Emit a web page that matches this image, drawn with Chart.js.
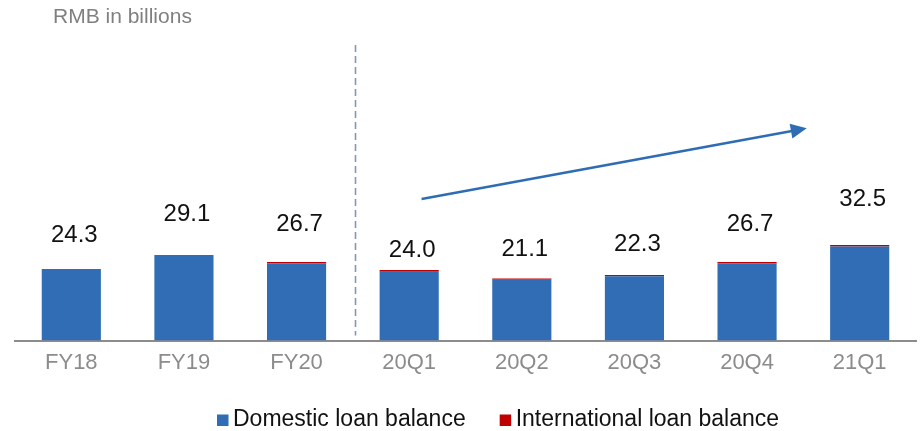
<!DOCTYPE html>
<html><head><meta charset="utf-8">
<script src="https://cdn.jsdelivr.net/npm/chart.js@4"></script>
<style>html,body{margin:0;padding:0;background:#fff}canvas{display:block}</style>
</head><body>
<canvas id="c" width="920" height="431"></canvas>
<script>
const categories = ['FY18','FY19','FY20','20Q1','20Q2','20Q3','20Q4','21Q1'];
const domesticLoans = [24.3, 29.1, 26.2, 23.4, 20.7, 21.9, 26.2, 32.0];
const internationalLoans = [0, 0, 0.5, 0.6, 0.4, 0.4, 0.5, 0.5];
const totalLoans = [24.3, 29.1, 26.7, 24.0, 21.1, 22.3, 26.7, 32.5];
const seriesNames = ['Domestic loan balance', 'International loan balance'];
const unitTitle = 'RMB in billions';
// trend arrow endpoints in axis units (category index, value)
const trendArrow = { from: { x: 3.11, y: 48.1 }, to: { x: 6.53, y: 72.2 } };

const FONT = '"Liberation Sans", Arial, sans-serif';
const BLUE = '#306db4';
const RED = '#c00000';

const decor = {
  id: 'decor',
  afterDraw(chart, args, opts) {
    const { ctx, chartArea: ca, scales } = chart;
    const x = scales.x, y = scales.y, yl = scales.yl;
    ctx.save();
    // dashed divider between FY20 and 20Q1
    const dx = Math.round((x.getPixelForValue(2) + x.getPixelForValue(3)) / 2 + 2) + 0.5;
    ctx.strokeStyle = '#8497b0';
    ctx.lineWidth = 1.6;
    ctx.setLineDash([7, 4]);
    ctx.beginPath();
    ctx.moveTo(dx, ca.top + 28);
    ctx.lineTo(dx, ca.bottom - 5);
    ctx.stroke();
    ctx.setLineDash([]);

    // trend arrow
    const x1 = x.getPixelForValue(trendArrow.from.x), y1 = y.getPixelForValue(trendArrow.from.y);
    const x2 = x.getPixelForValue(trendArrow.to.x), y2 = y.getPixelForValue(trendArrow.to.y);
    const ang = Math.atan2(y2 - y1, x2 - x1);
    const hl = 16, hw = 7.5;
    const bx = x2 - hl * Math.cos(ang), by = y2 - hl * Math.sin(ang);
    ctx.strokeStyle = '#2e6db4';
    ctx.fillStyle = '#2e6db4';
    ctx.lineWidth = 2.5;
    ctx.beginPath();
    ctx.moveTo(x1, y1);
    ctx.lineTo(bx + 1 * Math.cos(ang), by + 1 * Math.sin(ang));
    ctx.stroke();
    ctx.beginPath();
    ctx.moveTo(x2, y2);
    ctx.lineTo(bx - hw * Math.sin(ang), by + hw * Math.cos(ang));
    ctx.lineTo(bx + hw * Math.sin(ang), by - hw * Math.cos(ang));
    ctx.closePath();
    ctx.fill();

    // value labels
    ctx.font = '24px ' + FONT;
    ctx.fillStyle = '#111';
    ctx.textAlign = 'center';
    ctx.textBaseline = 'middle';
    totalLoans.forEach((t, i) => {
      const px = x.getPixelForValue(i) + 3;
      const py = yl.getPixelForValue(t) + 2 + ((opts.labelNudge || {})[i] || 0);
      ctx.fillText(t.toFixed(1), px, py);
    });

    // unit title
    ctx.font = '21px ' + FONT;
    ctx.fillStyle = '#808080';
    ctx.textAlign = 'left';
    ctx.fillText(unitTitle, 53, 17);

    // legend
    ctx.font = '23px ' + FONT;
    let lx = 217;
    const ly = 420;
    chart.data.datasets.forEach((ds, i) => {
      ctx.fillStyle = ds.backgroundColor;
      ctx.fillRect(lx, ly - 5.5, 11.5, 11.5);
      ctx.fillStyle = '#111';
      ctx.textBaseline = 'middle';
      ctx.fillText(ds.label, lx + 16, ly);
      lx += 16 + ctx.measureText(ds.label).width + 34;
    });
    ctx.restore();
  }
};

new Chart(document.getElementById('c'), {
  type: 'bar',
  data: {
    labels: categories,
    datasets: [
      { label: seriesNames[0], data: domesticLoans, backgroundColor: BLUE, borderWidth: 0 },
      { label: seriesNames[1], data: internationalLoans, backgroundColor: RED, borderWidth: 0 }
    ]
  },
  options: {
    responsive: false,
    devicePixelRatio: 1,
    animation: false,
    categoryPercentage: 1,
    barPercentage: 0.525,
    layout: { padding: { left: 15, right: 4, top: 17, bottom: 46 } },
    plugins: {
      legend: { display: false },
      tooltip: { enabled: false },
      decor: { labelNudge: { 3: 14 } }
    },
    scales: {
      x: {
        stacked: true,
        grid: { display: false, drawTicks: false },
        border: { color: '#8c8c8c', width: 2 },
        ticks: { color: '#8c8c8c', font: { size: 22, family: FONT }, padding: 9 }
      },
      y: { display: false, stacked: true, min: 0, max: 110 },
      yl: { display: false, min: 0, max: 73.3 }
    }
  },
  plugins: [decor]
});
</script>
</body></html>
